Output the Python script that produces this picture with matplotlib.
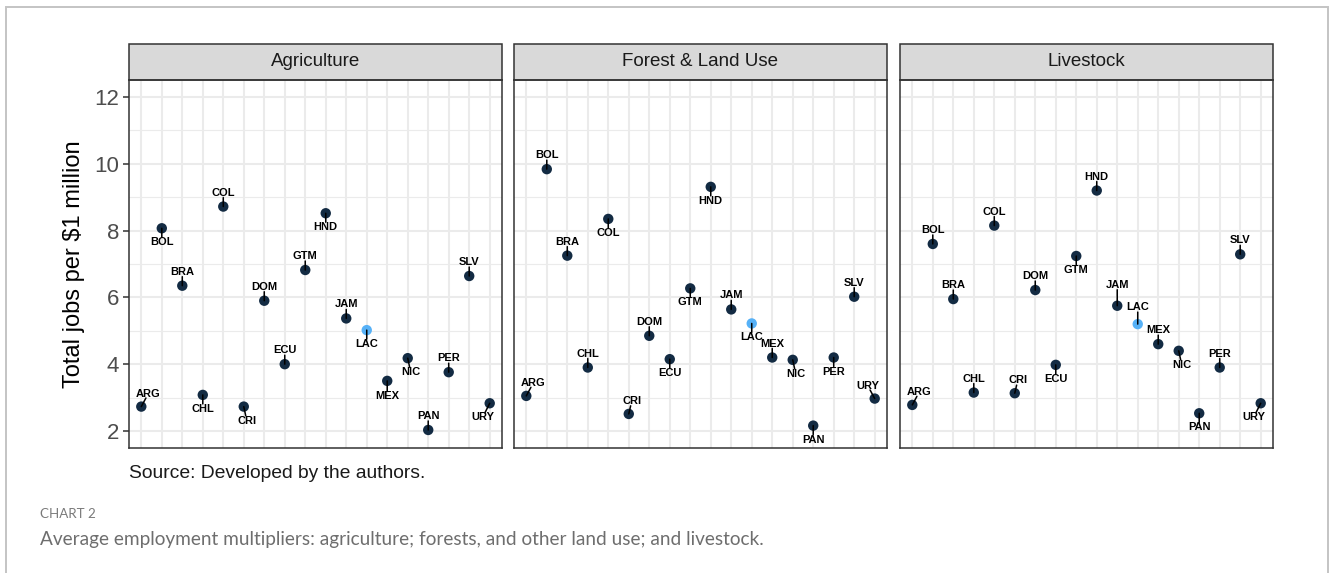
import matplotlib
matplotlib.use("Agg")
import matplotlib.pyplot as plt
from matplotlib.patches import Rectangle

# ---- data -------------------------------------------------------------
countries = ["ARG", "BOL", "BRA", "CHL", "COL", "CRI", "DOM", "ECU", "GTM",
             "HND", "JAM", "LAC", "MEX", "NIC", "PAN", "PER", "SLV", "URY"]
sectors = ["Agriculture", "Forest & Land Use", "Livestock"]

agriculture = [2.73, 8.07, 6.35, 3.08, 8.72, 2.73, 5.90, 4.00, 6.82,
               8.52, 5.37, 5.02, 3.50, 4.18, 2.03, 3.76, 6.64, 2.83]
forest_land_use = [3.05, 9.84, 7.25, 3.90, 8.35, 2.51, 4.85, 4.15, 6.27,
                   9.31, 5.64, 5.22, 4.20, 4.13, 2.16, 4.20, 6.02, 2.97]
livestock = [2.78, 7.60, 5.95, 3.15, 8.15, 3.13, 6.22, 3.98, 7.24,
             9.20, 5.75, 5.20, 4.60, 4.40, 2.53, 3.90, 7.29, 2.83]

y_ticks = [2, 4, 6, 8, 10, 12]
y_label = "Total jobs per \\$1 million"
source_note = "Source: Developed by the authors."
chart_tag = "CHART 2"
chart_caption = ("Average employment multipliers: agriculture; forests, and "
                 "other land use; and livestock.")

# ---- label placement (offsets in pixels, + is right / up) -------------
A, B = (0, 14), (0, -14)
AR, BR, BL, AL = (7, 13), (3, -14), (-7, -14), (-7, 13)
label_offsets = [
    [AR, B, A, B, A, BR, A, A, A, B, A, B, (0, -15), BR, A, A, A, BL],
    [AR, A, A, A, B, (3, 13), A, B, B, B, A, B, A, BR, B, B, A, AL],
    [AR, A, A, A, A, (3, 13), A, B, B, A, (0, 21), (0, 17), A, BR, B, A, A, BL],
]

# ---- style ------------------------------------------------------------
plt.rcParams["font.family"] = ["Liberation Sans", "DejaVu Sans"]
W, H = 1330, 573
DPI = 100
PX = 72.0 / DPI  # points per pixel

point_color = "#132B43"
lac_color = "#56B1F7"
grid_color = "#EBEBEB"
border_color = "#333333"

fig = plt.figure(figsize=(W / DPI, H / DPI), dpi=DPI)
fig.patch.set_facecolor("white")

# outer frame of the figure box
frame = Rectangle((6 / W, -0.05), (1328 - 6) / W, 1.05 - 7 / H,
                  transform=fig.transFigure, fill=False,
                  edgecolor="#C4C4C4", lw=1.4, zorder=0)
fig.add_artist(frame)

panel_left = [129, 514, 900]
panel_w = 373
panel_top, panel_bottom = 80, 448
strip_h = 36

series = [agriculture, forest_land_use, livestock]
xs = list(range(1, len(countries) + 1))

for i, (name, vals) in enumerate(zip(sectors, series)):
    ax = fig.add_axes([panel_left[i] / W, 1 - panel_bottom / H,
                       panel_w / W, (panel_bottom - panel_top) / H])
    ax.set_xlim(0.4, len(countries) + 0.6)
    ax.set_ylim(1.49, 12.51)

    # grid
    for x in xs:
        ax.axvline(x, color=grid_color, lw=1.5, zorder=0)
    for y in y_ticks:
        ax.axhline(y, color=grid_color, lw=1.5, zorder=0)
    for y in [3, 5, 7, 9, 11]:
        ax.axhline(y, color=grid_color, lw=0.8, zorder=0)

    ax.set_xticks([])
    ax.set_yticks(y_ticks)
    if i == 0:
        ax.tick_params(axis="y", length=4, width=1.1, color=border_color,
                       labelsize=16, labelcolor="#4D4D4D", pad=3)
        ax.set_ylabel(y_label, fontsize=17, color="black", labelpad=7)
    else:
        ax.tick_params(axis="y", length=0, labelleft=False)

    for sp in ax.spines.values():
        sp.set_color(border_color)
        sp.set_linewidth(1.1)
        sp.set_zorder(5)

    colors = [lac_color if c == "LAC" else point_color for c in countries]
    ax.scatter(xs, vals, s=56, c=colors, zorder=3, linewidths=0)

    for x, v, c, off in zip(xs, vals, countries, label_offsets[i]):
        ax.annotate(c, xy=(x, v), xytext=(off[0] * PX, off[1] * PX),
                    textcoords="offset points", ha="center", va="center",
                    fontsize=8.0, fontweight="bold", color="black",
                    zorder=6,
                    arrowprops=dict(arrowstyle="-", color="black", lw=1.1,
                                    patchA=None, shrinkA=3.6, shrinkB=0))

    # facet strip
    strip_frac = strip_h / (panel_bottom - panel_top)
    ax.add_patch(Rectangle((0, 1), 1, strip_frac, transform=ax.transAxes,
                           facecolor="#D9D9D9", edgecolor=border_color,
                           lw=1.1, clip_on=False, zorder=5))
    ax.text(0.5, 1 + strip_frac / 2, name, transform=ax.transAxes,
            ha="center", va="center", fontsize=13.5, color="#1A1A1A",
            zorder=7)

fig.text(129 / W, 1 - 473 / H, source_note, ha="left", va="center",
         fontsize=13.9, color="#1A1A1A")
fig.text(40 / W, 1 - 514 / H, chart_tag, ha="left", va="center",
         fontsize=9.6, color="#7A7A7A", family=["Lato", "DejaVu Sans"])
fig.text(40 / W, 1 - 540 / H, chart_caption, ha="left", va="center",
         fontsize=13.7, color="#6E6E6E", family=["Lato", "DejaVu Sans"])

fig.savefig("out.png", dpi=DPI)
